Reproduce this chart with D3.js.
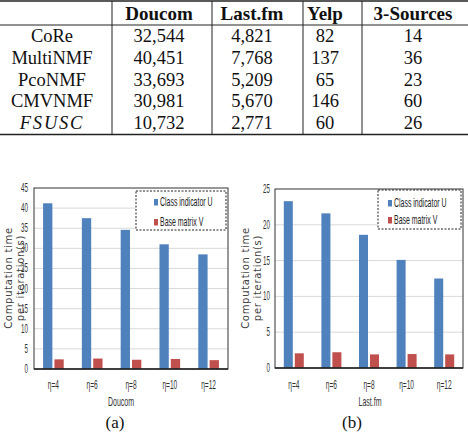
<!DOCTYPE html>
<html>
<head>
<meta charset="utf-8">
<script src="https://cdn.jsdelivr.net/npm/d3@7"></script>
<style>
  body { margin: 0; background: #fff; }
  svg { display: block; }
</style>
</head>
<body>
<svg id="fig" width="468" height="432"></svg>
<script>
// Table: running time of each method on each dataset.
const methods = ["CoRe", "MultiNMF", "PcoNMF", "CMVNMF", "FSUSC"];
const datasets = ["Doucom", "Last.fm", "Yelp", "3-Sources"];
const doucomTime = [32544, 40451, 33693, 30981, 10732];
const lastfmTime = [4821, 7768, 5209, 5670, 2771];
const yelpTime = [82, 137, 65, 146, 60];
const sourcesTime = [14, 36, 23, 60, 26];

// Bar charts: computation time per iteration.
const etaLabels = ["η=4", "η=6", "η=8", "η=10", "η=12"];
const seriesNames = ["Class indicator U", "Base matrix V"];
const doucomU = [41.2, 37.5, 34.6, 31.0, 28.5];
const doucomV = [2.4, 2.6, 2.3, 2.5, 2.2];
const lastfmU = [23.3, 21.6, 18.6, 15.1, 12.5];
const lastfmV = [2.05, 2.2, 1.9, 1.95, 1.9];
const doucomTicks = [0, 5, 10, 15, 20, 25, 30, 35, 40, 45];
const lastfmTicks = [0, 5, 10, 15, 20, 25];

const svg = d3.select("#fig");
const fmt = d3.format(",");

// ---------- table ----------
const colX = [52, 159, 252, 325, 413];
const colLines = [112, 212, 303, 362];
const rowY = d3.scaleLinear().domain([0, methods.length - 1]).range([42, 129]);
const table = svg.append("g")
  .attr("font-family", "'Liberation Serif', 'Times New Roman', serif")
  .attr("fill", "#111");

table.selectAll(".head")
  .data(datasets)
  .enter().append("text")
    .attr("x", (d, i) => colX[i + 1])
    .attr("y", 19.5)
    .attr("text-anchor", "middle")
    .attr("font-weight", "bold")
    .attr("font-size", 19)
    .text(d => d);

table.selectAll(".method")
  .data(methods)
  .enter().append("text")
    .attr("x", colX[0])
    .attr("y", (d, i) => rowY(i))
    .attr("text-anchor", "middle")
    .attr("font-size", 18.5)
    .attr("font-style", d => d === "FSUSC" ? "italic" : null)
    .attr("letter-spacing", d => d === "FSUSC" ? 1.8 : null)
    .text(d => d);

[doucomTime, lastfmTime, yelpTime, sourcesTime].forEach(function(col, c) {
  table.selectAll(".val" + c)
    .data(col)
    .enter().append("text")
      .attr("x", colX[c + 1])
      .attr("y", (d, i) => rowY(i))
      .attr("text-anchor", "middle")
      .attr("font-size", 18.5)
      .text(d => fmt(d));
});

// rules
[[1, 1.5], [25, 1], [134.5, 1.5]].forEach(function(r) {
  table.append("line")
    .attr("x1", 0).attr("x2", 468)
    .attr("y1", r[0]).attr("y2", r[0])
    .attr("stroke", "#222").attr("stroke-width", r[1]);
});
table.selectAll(".vl")
  .data(colLines)
  .enter().append("line")
    .attr("x1", d => d).attr("x2", d => d)
    .attr("y1", 1).attr("y2", 134.5)
    .attr("stroke", "#222").attr("stroke-width", 1);

// ---------- bar charts ----------
const blue = "#4f81bd", red = "#c0504d";
const narrow = "'Liberation Sans', Arial, sans-serif";

function barChart(cfg) {
  const g = svg.append("g");

  const x0 = d3.scaleBand().domain(etaLabels).range([cfg.left, cfg.right]);
  const x1 = d3.scaleBand().domain(seriesNames)
    .range([0, x0.bandwidth()])
    .paddingInner(0.18).paddingOuter(0.8);
  const y = d3.scaleLinear().domain([0, cfg.max]).range([cfg.bottom, cfg.top]);

  // gridlines
  g.selectAll(".grid")
    .data(cfg.ticks.filter(t => t > 0 && t < cfg.max))
    .enter().append("line")
      .attr("x1", cfg.left).attr("x2", cfg.right)
      .attr("y1", d => y(d)).attr("y2", d => y(d))
      .attr("stroke", "#d9d9d9").attr("stroke-width", 1);

  // bars
  const series = [cfg.u, cfg.v];
  series.forEach(function(vals, s) {
    g.selectAll(".bar" + s)
      .data(vals)
      .enter().append("rect")
        .attr("x", (d, i) => x0(etaLabels[i]) + x1(seriesNames[s]))
        .attr("y", d => y(d))
        .attr("width", x1.bandwidth())
        .attr("height", d => y(0) - y(d))
        .attr("fill", s === 0 ? blue : red);
  });

  // frame
  g.append("rect")
    .attr("x", cfg.left).attr("y", cfg.top)
    .attr("width", cfg.right - cfg.left).attr("height", cfg.bottom - cfg.top)
    .attr("fill", "none").attr("stroke", "#333").attr("stroke-width", 1);
  g.append("line")
    .attr("x1", cfg.left).attr("x2", cfg.right)
    .attr("y1", y(0)).attr("y2", y(0))
    .attr("stroke", "#222").attr("stroke-width", 1.6);

  // y tick labels (squeezed like the source)
  g.selectAll(".ytick")
    .data(cfg.ticks)
    .enter().append("text")
      .attr("transform", d => "translate(" + cfg.tickRight + "," + (y(d) + 4) + ") scale(0.52,1)")
      .attr("text-anchor", "end")
      .attr("font-family", narrow)
      .attr("font-size", 12)
      .attr("fill", "#333")
      .text(d => d);

  // x tick labels
  g.selectAll(".xtick")
    .data(etaLabels)
    .enter().append("text")
      .attr("transform", d => "translate(" + (x0(d) + x0.bandwidth() / 2) + ",389) scale(0.55,1)")
      .attr("text-anchor", "middle")
      .attr("font-family", narrow)
      .attr("font-size", 12)
      .attr("fill", "#333")
      .text(d => d);

  // x title
  g.append("text")
    .attr("transform", "translate(" + cfg.titleX + ",406) scale(0.54,1)")
    .attr("text-anchor", "middle")
    .attr("font-family", narrow)
    .attr("font-size", 13)
    .attr("fill", "#333")
    .text(cfg.title);

  // y title, two lines
  ["Computation time", "per iteration(s)"].forEach(function(t, i) {
    g.append("text")
      .attr("transform", "translate(" + cfg.yTitleX[i] + "," + cfg.yTitleY + ") rotate(-90)")
      .attr("text-anchor", "middle")
      .attr("font-family", "'DejaVu Sans', Verdana, sans-serif")
      .attr("font-size", 10)
      .attr("letter-spacing", 0.7)
      .attr("fill", "#444")
      .text(t);
  });

  // legend
  const lg = cfg.legend;
  g.append("rect")
    .attr("x", lg.x).attr("y", lg.y).attr("width", lg.w).attr("height", lg.h)
    .attr("fill", "#fff").attr("stroke", "#222").attr("stroke-width", 1)
    .attr("stroke-dasharray", "2,1.5");
  seriesNames.forEach(function(name, i) {
    const cy = lg.y + lg.rows[i];
    g.append("rect")
      .attr("x", lg.x + lg.mark).attr("y", cy - 3)
      .attr("width", 4).attr("height", 6.5)
      .attr("fill", i === 0 ? blue : red);
    g.append("text")
      .attr("transform", "translate(" + (lg.x + lg.mark + 6) + "," + (cy + 4) + ") scale(0.58,1)")
      .attr("font-family", narrow)
      .attr("font-size", 12)
      .attr("fill", "#222")
      .text(name);
  });

  // caption
  g.append("text")
    .attr("x", cfg.capX).attr("y", 428)
    .attr("text-anchor", "middle")
    .attr("font-family", "'Liberation Serif', 'Times New Roman', serif")
    .attr("font-size", 17)
    .attr("fill", "#111")
    .text(cfg.caption);
}

barChart({
  left: 34, right: 228, top: 188, bottom: 369, max: 45,
  ticks: doucomTicks, u: doucomU, v: doucomV,
  tickRight: 28, title: "Doucom", titleX: 121,
  yTitleX: [12, 24], yTitleY: 278,
  legend: { x: 136, y: 191, w: 90, h: 39, mark: 18, rows: [11, 31] },
  caption: "(a)", capX: 115
});

barChart({
  left: 275, right: 463, top: 189, bottom: 368, max: 25,
  ticks: lastfmTicks, u: lastfmU, v: lastfmV,
  tickRight: 270, title: "Last.fm", titleX: 370,
  yTitleX: [249, 261], yTitleY: 278,
  legend: { x: 378, y: 190, w: 83, h: 39, mark: 10, rows: [13, 30] },
  caption: "(b)", capX: 352
});
</script>
</body>
</html>
